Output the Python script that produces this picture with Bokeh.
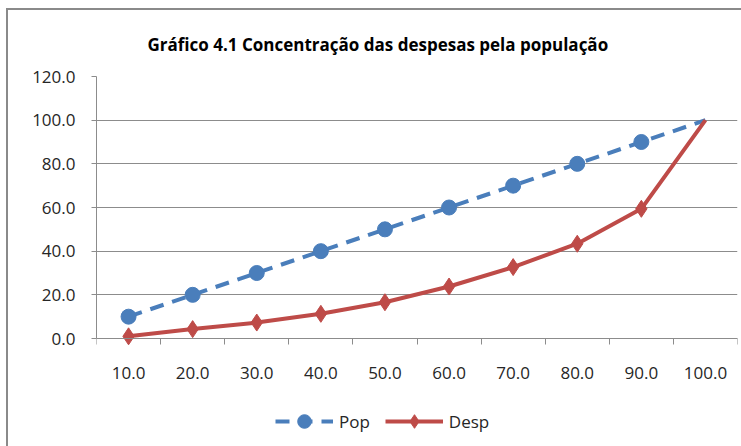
from bokeh.plotting import figure
from bokeh.models import FixedTicker, PrintfTickFormatter, Legend, LegendItem, Range1d
from bokeh.embed import file_html
from bokeh.resources import INLINE

# ---- data ----
categories = [10, 20, 30, 40, 50, 60, 70, 80, 90, 100]
pop = [10.0, 20.0, 30.0, 40.0, 50.0, 60.0, 70.0, 80.0, 90.0, 100.0]
desp = [1.0, 4.3, 7.3, 11.3, 16.6, 23.8, 32.7, 43.4, 59.4, 100.0]
y_ticks = [0, 20, 40, 60, 80, 100, 120]
title_text = "Gráfico 4.1 Concentração das despesas pela população"
series_names = ["Pop", "Desp"]

BLUE = "#4A7EBB"
RED = "#BE4B48"
GRID = "#8C8C8C"
TEXT = "#262626"
FONT = "Open Sans"

half = (categories[1] - categories[0]) / 2

# plot area: 262 px for the 0..120 value span, extra room below for labels and legend
PLOT_H = 262
EXTRA_BELOW = 108
y_lo = -(y_ticks[-1] - y_ticks[0]) * EXTRA_BELOW / PLOT_H

p = figure(frame_width=641, frame_height=PLOT_H + EXTRA_BELOW,
           output_backend="svg", toolbar_location=None,
           x_range=Range1d(categories[0] - half, categories[-1] + half),
           y_range=Range1d(y_lo, y_ticks[-1]),
           min_border_left=88, min_border_right=4, min_border_top=60,
           min_border_bottom=0)
# chart-area frame (left and top edges visible in the window)
p.styles = {"margin-left": "6px", "margin-top": "8px",
            "border-left": "2px solid #8a8a8a", "border-top": "2px solid #8a8a8a"}

p.title.text = title_text
p.title.align = "left"
p.title.offset = 51
p.title.text_font = FONT
p.title.text_font_style = "bold"
p.title.text_font_size = "17px"
p.title.text_color = "#000000"
p.title.standoff = 41

p.outline_line_color = None
p.xgrid.visible = False
p.ygrid.grid_line_color = GRID
p.ygrid.grid_line_width = 1

# x axis sits at value 0: labels at category centres, ticks at category boundaries
minor = [c - half for c in categories] + [categories[-1] + half]
p.xaxis.fixed_location = y_ticks[0]
p.xaxis.ticker = FixedTicker(ticks=categories, minor_ticks=minor)
p.xaxis.formatter = PrintfTickFormatter(format="%.1f")
p.xaxis.axis_line_color = GRID
p.xaxis.major_tick_out = 0
p.xaxis.major_tick_in = 0
p.xaxis.minor_tick_out = 6
p.xaxis.minor_tick_in = 0
p.xaxis.minor_tick_line_color = GRID
p.xaxis.major_label_standoff = 22

p.yaxis.ticker = FixedTicker(ticks=y_ticks)
p.yaxis.bounds = (y_ticks[0], y_ticks[-1])
p.yaxis.formatter = PrintfTickFormatter(format="%.1f")
p.yaxis.axis_line_color = GRID
p.yaxis.major_tick_out = 5
p.yaxis.major_tick_in = 0
p.yaxis.major_tick_line_color = GRID
p.yaxis.minor_tick_line_color = None
p.yaxis.major_label_standoff = 16

for ax in (p.xaxis, p.yaxis):
    ax.major_label_text_font = FONT
    ax.major_label_text_font_size = "17px"
    ax.major_label_text_color = TEXT

pop_line = p.line(categories, pop, line_color=BLUE, line_width=4, line_dash="14 9")
pop_mark = p.scatter(categories[:-1], pop[:-1], marker="circle", size=15,
                     fill_color=BLUE, line_color=BLUE)
desp_line = p.line(categories, desp, line_color=RED, line_width=4)
desp_mark = p.scatter(categories[:-1], desp[:-1], marker="diamond", size=17,
                      fill_color=RED, line_color=RED)

legend = Legend(items=[LegendItem(label=series_names[0], renderers=[pop_line, pop_mark]),
                       LegendItem(label=series_names[1], renderers=[desp_line, desp_mark])],
                orientation="horizontal", location=(179, 8),
                glyph_width=58, glyph_height=34, spacing=15, label_standoff=6,
                label_text_font=FONT, label_text_font_size="17px",
                label_text_color=TEXT, border_line_color=None,
                background_fill_alpha=0, margin=0, padding=0)
p.add_layout(legend, "center")

open("out.html", "w").write(file_html(p, INLINE))
